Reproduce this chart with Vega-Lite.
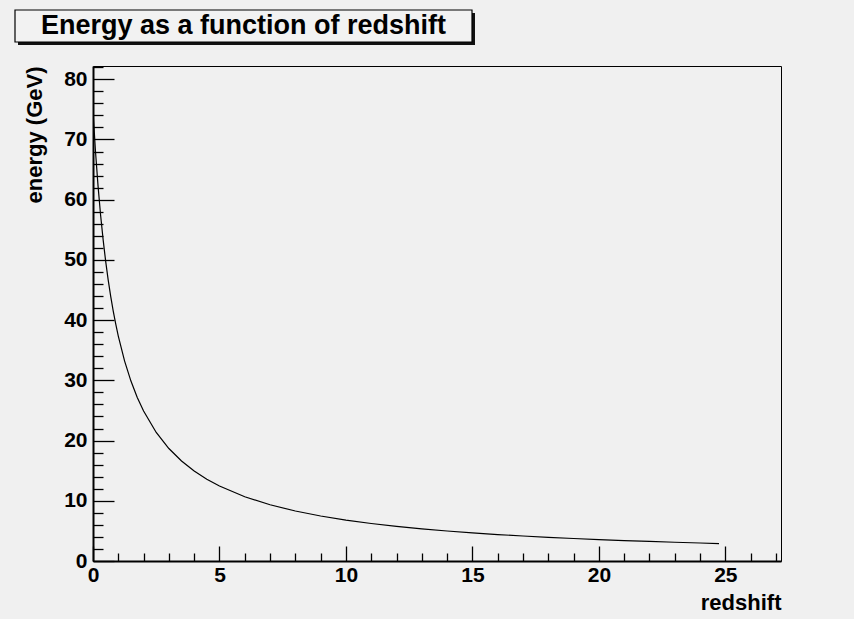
{
  "$schema": "https://vega.github.io/schema/vega-lite/v6.json",
  "background": "#f0f0f0",
  "padding": {"left": 14, "top": 9, "right": 74, "bottom": 7},
  "spacing": 10,
  "config": {
    "font": "Liberation Sans",
    "axis": {
      "grid": false,
      "domainColor": "#000",
      "domainWidth": 2,
      "tickColor": "#000",
      "tickWidth": 1.3,
      "labelColor": "#000",
      "labelFont": "Liberation Sans",
      "labelFontWeight": "bold",
      "labelFontSize": 21,
      "labelFlush": false,
      "labelOverlap": false,
      "titleColor": "#000",
      "titleFont": "Liberation Sans",
      "titleFontWeight": "bold",
      "titleFontSize": 22
    }
  },
  "vconcat": [
    {
      "width": 379,
      "height": 32,
      "view": {"stroke": null},
      "data": {"values": [{"title": "Energy as a function of redshift"}]},
      "layer": [
        {
          "mark": {"type": "rect", "color": "#111", "xOffset": -75, "x2Offset": 3, "yOffset": 3, "y2Offset": 3},
          "encoding": {
            "x": {"datum": 0, "type": "quantitative", "scale": {"domain": [0, 1], "nice": false, "zero": false}, "axis": null},
            "x2": {"datum": 1},
            "y": {"datum": 0, "type": "quantitative", "scale": {"domain": [0, 1], "nice": false, "zero": false}, "axis": null},
            "y2": {"datum": 1}
          }
        },
        {
          "mark": {"type": "rect", "fill": "#f2f2f2", "stroke": "#000", "strokeWidth": 1.2, "xOffset": -78},
          "encoding": {
            "x": {"datum": 0, "type": "quantitative"},
            "x2": {"datum": 1},
            "y": {"datum": 0, "type": "quantitative"},
            "y2": {"datum": 1}
          }
        },
        {
          "mark": {"type": "text", "font": "Liberation Sans", "fontWeight": "bold", "fontSize": 27, "color": "#000", "baseline": "middle", "align": "center", "dx": -39},
          "encoding": {"text": {"field": "title"}}
        }
      ]
    },
    {
      "width": 688,
      "height": 495,
      "view": {"stroke": "#000", "strokeWidth": 1, "fill": "#f0f0f0"},
      "data": {"values": [
        {"z": 0, "E": 74.7},
        {"z": 0.1, "E": 67.91},
        {"z": 0.2, "E": 62.25},
        {"z": 0.3, "E": 57.46},
        {"z": 0.4, "E": 53.36},
        {"z": 0.5, "E": 49.8},
        {"z": 0.6, "E": 46.69},
        {"z": 0.7, "E": 43.94},
        {"z": 0.8, "E": 41.5},
        {"z": 0.9, "E": 39.32},
        {"z": 1.0, "E": 37.35},
        {"z": 1.25, "E": 33.2},
        {"z": 1.5, "E": 29.88},
        {"z": 1.75, "E": 27.16},
        {"z": 2.0, "E": 24.9},
        {"z": 2.5, "E": 21.34},
        {"z": 3.0, "E": 18.68},
        {"z": 3.5, "E": 16.6},
        {"z": 4.0, "E": 14.94},
        {"z": 4.5, "E": 13.58},
        {"z": 5.0, "E": 12.45},
        {"z": 6.0, "E": 10.67},
        {"z": 7.0, "E": 9.34},
        {"z": 8.0, "E": 8.3},
        {"z": 9.0, "E": 7.47},
        {"z": 10.0, "E": 6.79},
        {"z": 11.0, "E": 6.23},
        {"z": 12.0, "E": 5.75},
        {"z": 13.0, "E": 5.34},
        {"z": 14.0, "E": 4.98},
        {"z": 15.0, "E": 4.67},
        {"z": 16.0, "E": 4.39},
        {"z": 17.0, "E": 4.15},
        {"z": 18.0, "E": 3.93},
        {"z": 19.0, "E": 3.74},
        {"z": 20.0, "E": 3.56},
        {"z": 21.0, "E": 3.4},
        {"z": 22.0, "E": 3.25},
        {"z": 23.0, "E": 3.11},
        {"z": 24.0, "E": 2.99},
        {"z": 24.75, "E": 2.9}
      ]},
      "mark": {"type": "line", "color": "#000", "strokeWidth": 1.2, "clip": true},
      "encoding": {
        "x": {
          "field": "z",
          "type": "quantitative",
          "scale": {"domain": [0, 27.2], "nice": false, "zero": false},
          "axis": {
            "values": [0,1,2,3,4,5,6,7,8,9,10,11,12,13,14,15,16,17,18,19,20,21,22,23,24,25,26,27],
            "labelExpr": "datum.value % 5 === 0 ? datum.label : ''",
            "tickSize": {"condition": {"test": "datum.value % 5 === 0", "value": -15}, "value": -8},
            "labelPadding": 18,
            "title": "redshift",
            "titleAnchor": "end",
            "titlePadding": 0
          }
        },
        "y": {
          "field": "E",
          "type": "quantitative",
          "scale": {"domain": [0, 82.2], "nice": false, "zero": false},
          "axis": {
            "values": [0,2,4,6,8,10,12,14,16,18,20,22,24,26,28,30,32,34,36,38,40,42,44,46,48,50,52,54,56,58,60,62,64,66,68,70,72,74,76,78,80,82],
            "labelExpr": "datum.value % 10 === 0 ? datum.label : ''",
            "tickSize": {"condition": {"test": "datum.value % 10 === 0", "value": -21}, "value": -10},
            "labelPadding": 27,
            "title": "energy (GeV)",
            "titleAnchor": "end",
            "titlePadding": 17
          }
        }
      }
    }
  ]
}
